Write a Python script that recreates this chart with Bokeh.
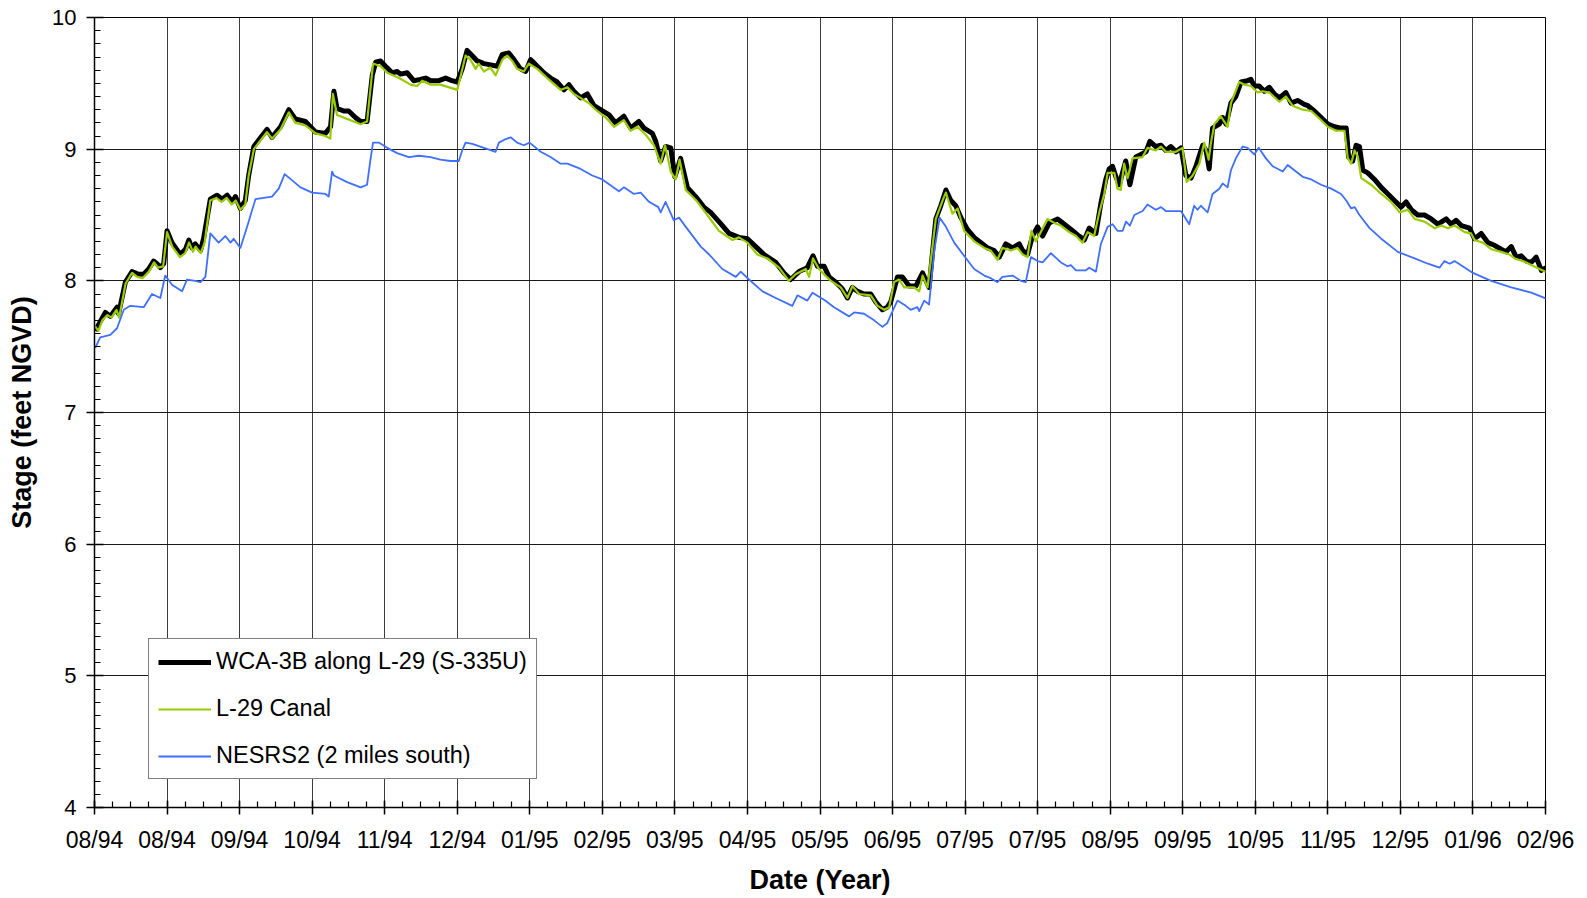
from bokeh.plotting import figure
from bokeh.models import FixedTicker, Range1d
from bokeh.embed import file_html
from bokeh.resources import INLINE

# x = days since 1994-08-01 ; ticks every 28 days
tick_labels = ["08/94", "08/94", "09/94", "10/94", "11/94", "12/94", "01/95", "02/95",
               "03/95", "04/95", "05/95", "06/95", "07/95", "07/95", "08/95", "09/95",
               "10/95", "11/95", "12/95", "01/96", "02/96"]
tick_step_days = 28
y_ticks = [4, 5, 6, 7, 8, 9, 10]

wca_3b = [(0.3,7.62),(2.2,7.69),(4.2,7.76),(6.1,7.73),(8.7,7.80),(9.3,7.75),(11.9,7.99),(14.5,8.07),(17.0,8.05),(19.0,8.05),
          (20.9,8.09),(22.8,8.15),(24.1,8.13),(25.4,8.10),(26.7,8.13),(28.0,8.38),(29.9,8.29),(33.1,8.20),(35.1,8.24),(36.4,8.31),
          (37.6,8.25),(38.9,8.28),(40.9,8.23),(42.1,8.32),(44.7,8.62),(47.3,8.65),(49.2,8.62),(51.2,8.65),(53.1,8.60),(54.4,8.64),
          (56.3,8.55),(58.2,8.61),(59.5,8.80),(61.5,9.02),(63.4,9.07),(66.6,9.15),(68.5,9.09),(71.8,9.17),(75.0,9.30),(77.5,9.23),
          (81.4,9.21),(85.3,9.13),(89.1,9.12),(91.1,9.17),(92.4,9.44),(93.6,9.31),(96.2,9.29),(98.1,9.29),(100.7,9.24),(102.7,9.21),
          (105.2,9.21),(107.2,9.56),(108.5,9.66),(110.4,9.67),(112.3,9.63),(114.9,9.58),(116.8,9.59),(118.1,9.57),(120.7,9.58),(123.2,9.52),
          (125.8,9.53),(127.8,9.54),(129.7,9.52),(132.9,9.52),(135.5,9.54),(138.0,9.52),(140.0,9.51),(141.9,9.61),(143.8,9.75),(145.8,9.71),
          (147.7,9.67),(150.3,9.65),(152.9,9.64),(155.4,9.63),(157.4,9.72),(159.9,9.73),(161.9,9.68),(164.4,9.61),(166.4,9.59),(168.3,9.68),
          (170.9,9.63),(173.4,9.58),(176.0,9.54),(178.6,9.51),(181.2,9.45),(183.1,9.49),(185.0,9.44),(187.6,9.39),(190.2,9.42),(192.8,9.33),
          (195.3,9.30),(198.6,9.26),(201.1,9.20),(204.3,9.25),(206.9,9.16),(210.1,9.21),(212.1,9.16),(215.3,9.12),(216.6,9.06),(218.5,8.91),
          (220.4,9.02),(222.4,9.01),(224.0,8.79),(226.2,8.93),(228.8,8.71),(232.0,8.64),(235.2,8.56),(237.8,8.52),(241.0,8.45),(244.9,8.36),
          (248.7,8.33),(252.0,8.32),(255.2,8.26),(258.4,8.20),(262.9,8.14),(266.1,8.06),(268.7,8.01),(271.9,8.07),(275.1,8.10),(277.3,8.19),
          (279.0,8.11),(281.6,8.11),(283.5,8.03),(286.1,7.99),(288.6,7.94),(290.6,7.87),(292.5,7.95),(294.5,7.92),(297.0,7.90),(299.6,7.90),
          (301.5,7.84),(304.1,7.78),(306.0,7.80),(307.3,7.84),(309.9,8.03),(311.8,8.03),(314.4,7.96),(317.0,7.96),(319.6,8.06),(322.1,7.95),
          (324.7,8.47),(326.6,8.57),(328.6,8.69),(330.5,8.61),(332.4,8.57),(334.4,8.48),(336.9,8.39),(339.5,8.33),(342.1,8.29),(344.7,8.25),
          (347.2,8.23),(349.2,8.18),(351.7,8.28),(354.3,8.25),(356.9,8.28),(358.2,8.23),(360.1,8.20),(362.0,8.34),(364.0,8.41),(365.9,8.34),
          (368.5,8.44),(371.7,8.47),(374.3,8.43),(377.5,8.38),(380.0,8.34),(382.0,8.31),(383.9,8.40),(386.5,8.36),(388.4,8.59),(390.3,8.77),
          (391.6,8.85),(392.9,8.87),(394.2,8.79),(395.5,8.73),(398.0,8.91),(399.6,8.73),(401.9,8.94),(403.9,8.96),(405.8,8.98),(407.3,9.06),
          (409.6,9.02),(411.6,9.03),(413.5,8.99),(415.4,9.02),(417.4,8.98),(419.3,9.01),(421.2,8.80),(423.2,8.78),(425.1,8.87),(427.7,9.03),
          (429.0,8.99),(430.2,8.85),(431.5,9.16),(434.1,9.19),(435.4,9.24),(436.7,9.19),(438.6,9.35),(440.5,9.40),(442.5,9.51),(445.0,9.52),
          (446.3,9.53),(447.6,9.48),(449.5,9.48),(451.5,9.44),(453.4,9.47),(455.3,9.42),(457.3,9.39),(459.8,9.43),(461.8,9.35),(464.3,9.37),
          (466.9,9.34),(468.3,9.33),(470.8,9.29),(473.4,9.24),(476.0,9.19),(478.6,9.17),(481.1,9.16),(483.1,9.16),(484.0,8.94),(485.6,8.91),
          (486.9,9.03),(488.2,9.02),(489.5,8.84),(491.4,8.82),(494.0,8.77),(496.6,8.71),(499.2,8.66),(501.7,8.61),(504.3,8.56),(506.2,8.60),
          (508.2,8.54),(510.7,8.50),(513.3,8.50),(515.9,8.47),(518.5,8.43),(521.7,8.47),(523.6,8.43),(525.5,8.46),(527.5,8.42),(530.7,8.40),
          (532.6,8.32),(535.2,8.36),(537.8,8.29),(540.3,8.27),(542.9,8.24),(544.8,8.22),(546.8,8.26),(548.7,8.18),(550.6,8.19),(552.6,8.15),
          (554.5,8.14),(556.4,8.18),(558.4,8.08),(560.3,8.10)]

l29_canal = [(0.0,7.66),(1.5,7.62),(3.0,7.70),(5.0,7.74),(6.5,7.72),(8.5,7.78),(9.5,7.72),(12.0,7.98),(14.5,8.06),(16.5,8.03),
             (18.5,8.02),(21.0,8.07),(23.0,8.14),(24.5,8.10),(26.5,8.11),(28.0,8.37),(30.0,8.26),(33.0,8.18),(35.0,8.21),(36.5,8.29),
             (38.0,8.22),(39.0,8.26),(41.0,8.21),(42.5,8.29),(44.7,8.61),(47.0,8.63),(49.0,8.60),(51.0,8.63),(53.0,8.58),(54.5,8.61),
             (56.3,8.54),(58.2,8.58),(59.5,8.80),(61.5,9.00),(63.4,9.05),(66.6,9.13),(68.5,9.08),(71.8,9.15),(75.0,9.28),(77.5,9.20),
             (81.4,9.18),(85.3,9.12),(89.1,9.10),(91.0,9.08),(92.0,9.42),(93.6,9.26),(98.8,9.22),(102.7,9.19),(105.2,9.21),(107.5,9.65),
             (110.4,9.63),(113.0,9.58),(117.5,9.54),(122.0,9.49),(124.5,9.48),(126.5,9.52),(129.7,9.49),(133.5,9.49),(140.0,9.45),(143.2,9.71),
             (145.1,9.68),(147.1,9.61),(148.3,9.65),(150.3,9.59),(152.8,9.62),(154.8,9.56),(157.4,9.68),(159.3,9.71),(161.2,9.67),(163.1,9.61),
             (165.7,9.59),(167.6,9.65),(170.9,9.61),(174.7,9.54),(179.9,9.45),(182.5,9.47),(185.0,9.42),(190.8,9.35),(193.4,9.30),(197.3,9.24),
             (200.5,9.17),(204.3,9.22),(206.9,9.14),(209.5,9.17),(212.7,9.11),(215.9,9.03),(218.5,8.89),(220.2,9.03),(222.4,8.83),(224.3,8.77),
             (225.8,8.92),(228.2,8.69),(232.7,8.60),(236.5,8.50),(241.0,8.38),(246.2,8.31),(248.7,8.33),(252.0,8.29),(255.8,8.20),(259.7,8.17),
             (264.2,8.10),(268.0,8.00),(270.6,8.05),(274.5,8.09),(275.8,8.03),(277.3,8.17),(279.6,8.09),(282.0,8.04),(284.2,8.00),(288.0,7.95),
             (290.6,7.87),(292.5,7.96),(295.1,7.90),(299.6,7.89),(302.2,7.81),(304.8,7.78),(306.7,7.80),(308.6,7.99),(310.5,8.01),(312.5,7.95),
             (316.3,7.95),(318.3,7.92),(319.6,8.04),(321.5,7.95),(324.7,8.47),(327.3,8.61),(328.6,8.67),(331.1,8.51),(333.1,8.55),(335.6,8.38),
             (339.5,8.30),(343.4,8.25),(345.9,8.23),(348.5,8.16),(350.4,8.25),(353.7,8.23),(356.2,8.25),(358.2,8.20),(360.1,8.18),(361.6,8.38),
             (363.3,8.30),(365.2,8.37),(367.8,8.47),(370.4,8.44),(372.9,8.42),(376.2,8.37),(378.8,8.34),(381.3,8.29),(383.3,8.37),(385.8,8.34),
             (387.8,8.52),(389.7,8.66),(391.0,8.82),(393.6,8.82),(394.8,8.70),(396.1,8.69),(397.4,8.89),(398.7,8.78),(400.6,8.93),(404.5,8.94),
             (406.4,9.01),(409.6,8.99),(411.6,9.02),(413.5,8.98),(417.4,8.98),(419.9,9.01),(421.5,8.75),(423.8,8.80),(426.4,8.89),(428.3,9.05),
             (430.0,8.92),(430.9,9.05),(432.2,9.19),(434.7,9.25),(437.3,9.17),(438.6,9.35),(441.8,9.51),(443.8,9.49),(446.3,9.48),(448.9,9.43),
             (450.8,9.44),(453.4,9.43),(457.3,9.36),(459.8,9.40),(462.4,9.33),(466.3,9.30),(469.6,9.29),(473.4,9.22),(476.0,9.17),(479.2,9.14),
             (482.4,9.14),(483.7,8.93),(485.0,8.89),(486.3,8.99),(487.6,8.94),(488.9,8.78),(492.7,8.73),(496.6,8.66),(500.4,8.60),(503.7,8.52),
             (506.9,8.54),(509.5,8.47),(513.3,8.45),(517.2,8.40),(519.8,8.42),(522.3,8.40),(524.9,8.42),(528.8,8.37),(531.3,8.36),(532.6,8.31),
             (535.8,8.29),(539.1,8.24),(542.9,8.22),(546.1,8.20),(548.1,8.17),(551.3,8.15),(554.5,8.12),(557.7,8.09),(561.0,8.06)]

nesrs2 = [(0.3,7.49),(2.2,7.57),(6.1,7.59),(8.7,7.64),(11.3,7.78),(13.8,7.81),(19.0,7.80),(22.2,7.90),(25.4,7.87),(27.3,8.04),
          (29.9,7.97),(33.8,7.92),(35.7,8.01),(38.9,8.00),(40.9,7.99),(42.8,8.03),(44.7,8.36),(47.9,8.29),(50.5,8.34),(52.5,8.29),
          (53.7,8.32),(56.3,8.25),(58.9,8.41),(62.1,8.62),(68.5,8.64),(71.1,8.70),(73.4,8.81),(79.5,8.71),(84.0,8.67),(89.1,8.66),
          (90.4,8.64),(91.7,8.83),(92.4,8.80),(97.5,8.75),(102.7,8.71),(105.2,8.73),(106.5,8.92),(107.5,9.05),(109.7,9.05),(113.0,9.01),
          (116.8,8.97),(121.3,8.94),(125.2,8.95),(129.7,8.94),(133.5,8.92),(137.4,8.91),(140.6,8.91),(141.9,8.99),(143.2,9.05),(145.8,9.04),
          (150.3,9.01),(154.8,8.98),(156.1,9.05),(158.0,9.07),(160.6,9.09),(163.1,9.05),(165.7,9.03),(167.9,9.05),(172.2,8.98),(176.0,8.94),
          (179.9,8.89),(182.5,8.89),(187.6,8.85),(192.1,8.80),(196.0,8.77),(202.4,8.68),(204.3,8.71),(208.2,8.66),(210.8,8.67),(214.0,8.60),
          (217.6,8.56),(218.5,8.52),(220.4,8.60),(223.6,8.46),(225.6,8.48),(228.2,8.41),(234.0,8.26),(237.2,8.20),(242.3,8.09),(247.5,8.03),
          (249.4,8.07),(252.6,8.01),(257.8,7.92),(262.9,7.87),(269.3,7.81),(271.3,7.89),(275.1,7.85),(277.1,7.91),(282.0,7.85),(285.4,7.80),
          (291.2,7.73),(293.2,7.76),(297.0,7.75),(300.9,7.70),(304.1,7.65),(306.0,7.68),(308.0,7.77),(309.9,7.85),(313.1,7.81),(315.0,7.78),
          (317.6,7.80),(318.3,7.77),(320.2,7.85),(322.1,7.82),(324.1,8.23),(326.2,8.48),(328.6,8.41),(331.8,8.29),(335.6,8.19),(339.5,8.09),
          (343.4,8.04),(345.9,8.02),(348.5,7.99),(350.4,8.03),(354.3,8.04),(357.5,8.00),(359.4,7.99),(361.4,8.18),(364.0,8.15),(365.9,8.14),
          (369.1,8.21),(373.0,8.14),(375.5,8.11),(376.8,8.12),(378.8,8.08),(382.6,8.08),(383.9,8.10),(386.5,8.07),(388.4,8.28),(391.0,8.41),
          (392.9,8.43),(394.8,8.38),(396.8,8.38),(398.1,8.45),(399.6,8.42),(401.3,8.50),(404.5,8.53),(406.4,8.58),(409.6,8.54),(411.6,8.56),
          (413.5,8.53),(419.3,8.53),(422.5,8.43),(424.4,8.57),(425.7,8.54),(427.0,8.57),(429.6,8.52),(431.5,8.66),(434.1,8.70),(435.4,8.74),
          (437.3,8.71),(438.6,8.84),(440.5,8.93),(443.1,9.02),(445.0,9.01),(447.6,8.96),(449.3,9.01),(452.1,8.93),(454.7,8.87),(458.6,8.83),
          (460.5,8.88),(463.7,8.83),(466.3,8.79),(469.6,8.77),(473.4,8.73),(477.3,8.70),(481.1,8.66),(483.1,8.61),(485.0,8.55),(486.3,8.56),
          (488.2,8.50),(492.1,8.40),(496.6,8.32),(503.0,8.22),(509.5,8.17),(514.6,8.13),(519.1,8.10),(521.0,8.15),(523.0,8.13),(524.9,8.15),
          (532.0,8.06),(539.0,8.00),(546.8,7.95),(554.5,7.91),(561.0,7.86)]

series = [
    ("WCA-3B along L-29 (S-335U)", wca_3b, "#000000", 5.0),
    ("L-29 Canal", l29_canal, "#99CC00", 2.2),
    ("NESRS2 (2 miles south)", nesrs2, "#3F6FFF", 1.8),
]

FONT = "Liberation Sans"
n_ticks = len(tick_labels)
x_end = tick_step_days * (n_ticks - 1)

p = figure(width=1586, height=897, output_backend="svg", toolbar_location=None,
           x_range=Range1d(0, x_end), y_range=Range1d(y_ticks[0], y_ticks[-1]),
           min_border_left=94, min_border_right=41, min_border_top=17, min_border_bottom=90,
           background_fill_color="white", border_fill_color="white")

for name, pts, color, w in series:
    xs = [a for a, b in pts]
    ys = [b for a, b in pts]
    p.line(xs, ys, line_color=color, line_width=w, legend_label=name, line_join="round")

# axes
p.xaxis.ticker = FixedTicker(ticks=[tick_step_days * i for i in range(n_ticks)],
                             minor_ticks=[7 * i for i in range(4 * (n_ticks - 1) + 1)])
p.xaxis.major_label_overrides = {tick_step_days * i: lab for i, lab in enumerate(tick_labels)}
p.yaxis.ticker = FixedTicker(ticks=y_ticks,
                             minor_ticks=[y_ticks[0] + 0.1 * i for i in range(10 * (len(y_ticks) - 1) + 1)])

p.xaxis.axis_label = "Date (Year)"
p.yaxis.axis_label = "Stage (feet NGVD)"
for ax in (p.xaxis[0], p.yaxis[0]):
    ax.axis_line_color = "black"
    ax.axis_line_width = 1.5
    ax.major_tick_line_color = "black"
    ax.major_tick_line_width = 1.5
    ax.minor_tick_line_color = "black"
    ax.minor_tick_line_width = 1.2
    ax.major_label_text_font = FONT
    ax.major_label_text_color = "black"
    ax.axis_label_text_font = FONT
    ax.axis_label_text_font_size = "27px"
    ax.axis_label_text_font_style = "bold"
    ax.axis_label_text_color = "black"

p.xaxis.major_label_text_font_size = "23px"
p.yaxis.major_label_text_font_size = "22px"

p.xaxis.major_tick_in = 7
p.xaxis.major_tick_out = 7
p.xaxis.minor_tick_in = 6
p.xaxis.minor_tick_out = 0
p.xaxis.major_label_standoff = 12
p.xaxis.axis_label_standoff = 9

p.yaxis.major_tick_in = 9
p.yaxis.major_tick_out = 8
p.yaxis.minor_tick_in = 6
p.yaxis.minor_tick_out = 0
p.yaxis.major_label_standoff = 10
p.yaxis.axis_label_standoff = 12

p.xgrid.grid_line_color = "#3c3c3c"
p.xgrid.grid_line_width = 1
p.ygrid.grid_line_color = "#1a1a1a"
p.ygrid.grid_line_width = 1
p.outline_line_color = "black"
p.outline_line_width = 1

lg = p.legend[0]
lg.location = (54, 28)
lg.border_line_color = "black"
lg.border_line_width = 1
lg.background_fill_color = "white"
lg.background_fill_alpha = 1
lg.label_text_font = FONT
lg.label_text_font_size = "23.5px"
lg.label_text_color = "black"
lg.glyph_width = 53
lg.glyph_height = 26
lg.label_height = 26
lg.label_standoff = 5
lg.padding = 9
lg.spacing = 20
lg.margin = 0

open("out.html", "w").write(file_html(p, INLINE))
